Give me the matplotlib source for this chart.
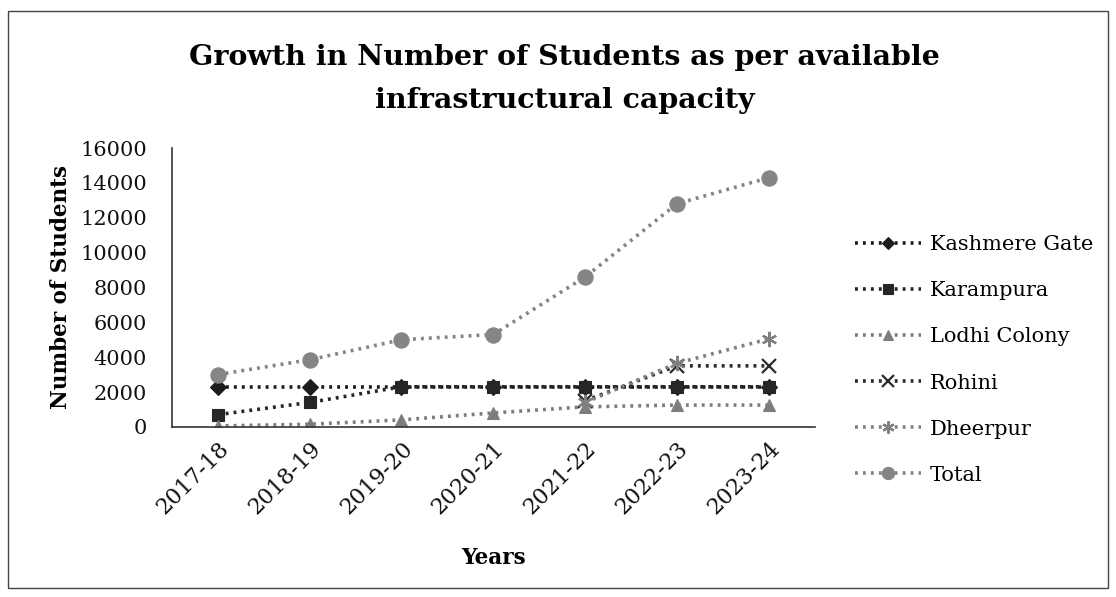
import numpy as np
import matplotlib.pyplot as plt
from matplotlib.patches import Rectangle

# Dades llegides del gràfic
years = ['2017-18', '2018-19', '2019-20', '2020-21', '2021-22', '2022-23', '2023-24']
kashmere_gate = [2300, 2300, 2300, 2300, 2300, 2300, 2300]
karampura = [700, 1400, 2300, 2300, 2300, 2300, 2300]
lodhi_colony = [50, 150, 400, 800, 1150, 1250, 1250]
rohini = [np.nan, np.nan, np.nan, np.nan, 1500, 3500, 3500]
dheerpur = [np.nan, np.nan, np.nan, np.nan, 1400, 3650, 5050]
total = [3000, 3850, 5000, 5300, 8600, 12800, 14300]

plt.rcParams['font.family'] = ['DejaVu Serif']

fig = plt.figure(figsize=(11.16, 5.97), dpi=100)
ax = fig.add_axes([0.154, 0.285, 0.576, 0.467])

x = np.arange(len(years))
dot = (0, (0.8, 1.4))
series = [
    ('Kashmere Gate', kashmere_gate, 'D', '#1c1c1c', 8),
    ('Karampura', karampura, 's', '#262626', 9),
    ('Lodhi Colony', lodhi_colony, '^', '#7d7d7d', 9),
    ('Rohini', rohini, 'x', '#2a2a2a', 10),
    ('Dheerpur', dheerpur, (6, 2, 0), '#808080', 11),
    ('Total', total, 'o', '#858585', 11),
]
for name, vals, mk, col, ms in series:
    ax.plot(x, vals, linestyle=dot, linewidth=2.6, color=col, marker=mk,
            markersize=ms, markeredgewidth=1.6 if mk in ('x', (6, 2, 0)) else 0.8,
            markeredgecolor=col, markerfacecolor=col, label=name)

ax.set_xlim(-0.5, 6.5)
ax.set_ylim(0, 16000)
ax.set_yticks(range(0, 16001, 2000))
ax.set_xticks(x)
ax.set_xticklabels(years, rotation=45, ha='right', va='top', rotation_mode='anchor')
ax.tick_params(axis='both', length=0, colors='#111111')
ax.tick_params(axis='y', pad=18, labelsize=15)
ax.tick_params(axis='x', pad=8, labelsize=16)
for s in ['top', 'right']:
    ax.spines[s].set_visible(False)
ax.spines['left'].set_color('#333333')
ax.spines['bottom'].set_color('#333333')
ax.spines['left'].set_linewidth(1.2)
ax.spines['bottom'].set_linewidth(1.2)

ax.set_ylabel('Number of Students', fontsize=15.5, fontweight='bold', labelpad=6)
ax.set_xlabel('Years', fontsize=15.5, fontweight='bold', labelpad=20)

fig.text(0.506, 0.904, 'Growth in Number of Students as per available',
         ha='center', va='center', fontsize=20.5, fontweight='bold')
fig.text(0.506, 0.832, 'infrastructural capacity',
         ha='center', va='center', fontsize=20.5, fontweight='bold')

ax.legend(loc='center left', bbox_to_anchor=(0.749, 0.397),
          bbox_transform=fig.transFigure, frameon=False,
          fontsize=15, labelspacing=1.3, handlelength=3.2, handletextpad=0.4,
          markerscale=0.8)

fig.add_artist(Rectangle((0.007, 0.015), 0.986, 0.967, transform=fig.transFigure,
                         fill=False, edgecolor='#444444', linewidth=1.0))

fig.savefig('out.png', dpi=100)
